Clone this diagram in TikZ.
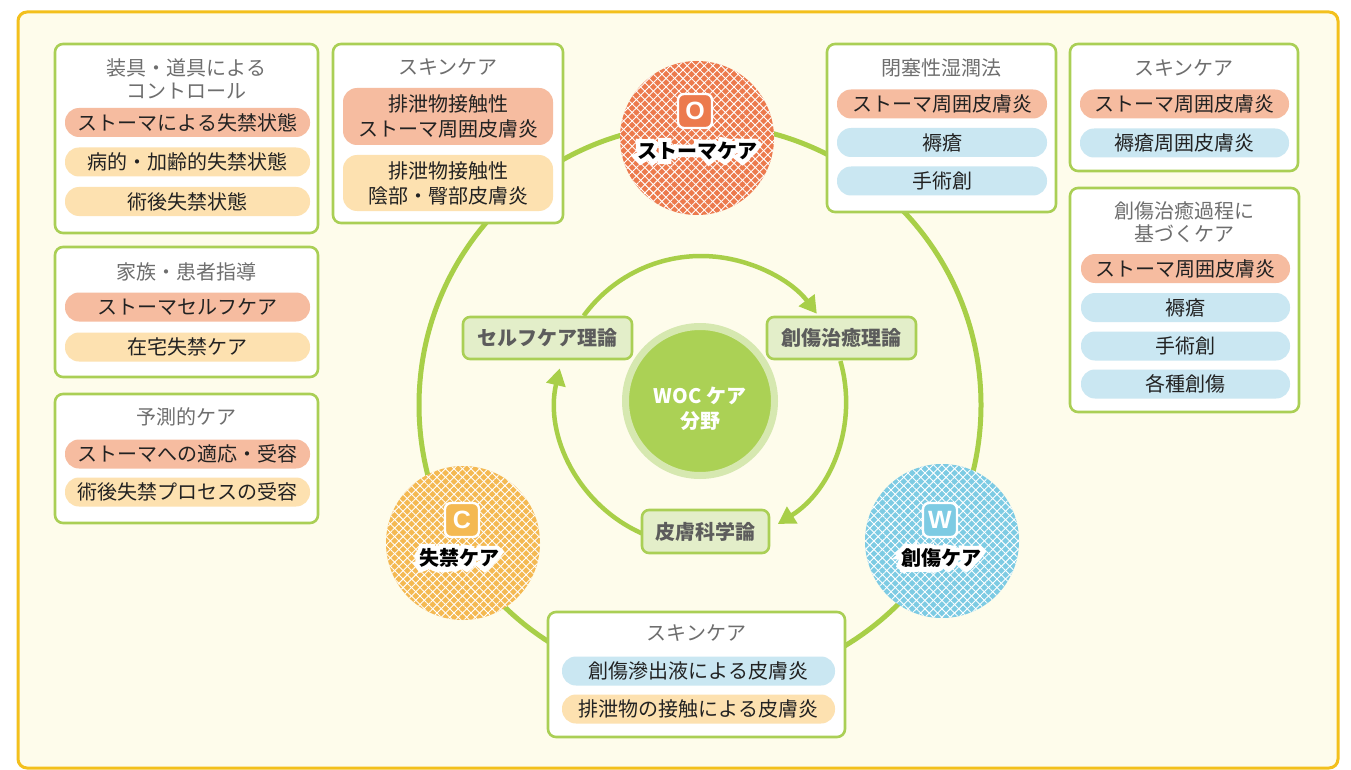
\documentclass[tikz,border=0pt]{standalone}
\usepackage{fontspec}
\setmainfont{Noto Sans CJK JP}
\newfontfamily\latf{Liberation Sans}
\newfontfamily\halofont{Noto Sans CJK JP}[BoldFeatures={FakeBold=45}]
\usetikzlibrary{calc,arrows.meta,patterns.meta}
\definecolor{framey}{HTML}{F3C01C}
\definecolor{cream}{HTML}{FEFCEB}
\definecolor{cardg}{HTML}{AACF55}
\definecolor{ringg}{HTML}{A8CF48}
\definecolor{thfill}{HTML}{E3EEC9}
\definecolor{headgray}{HTML}{6E6E6E}
\definecolor{thtext}{HTML}{5C5C5C}
\definecolor{textdark}{HTML}{222222}
\definecolor{salmon}{HTML}{F6BCA0}
\definecolor{peach}{HTML}{FDE1B0}
\definecolor{lblue}{HTML}{CAE7F2}
\definecolor{ocol}{HTML}{EC7A4D}
\definecolor{ccol}{HTML}{F4B952}
\definecolor{wcol}{HTML}{7DCBE3}
\definecolor{woclight}{HTML}{D6E8B0}
\definecolor{wocin}{HTML}{ABD155}
\newcommand\halolabel[3]{%
  \node[circlabel,text=white,font=\halofont\bfseries\fontsize{20}{20}\selectfont] (#1h) at (#2) {#3};
  \node[circlabel,text=black] (#1) at (#2) {#3};}
\newcommand\texturecirc[1]{%
  \fill[pattern={Lines[angle=45,distance=6pt,line width=0.9pt]}, pattern color=white, fill opacity=0.22] (#1.center) circle[radius=77pt];
  \fill[pattern={Lines[angle=-45,distance=6pt,line width=0.9pt]}, pattern color=white, fill opacity=0.22] (#1.center) circle[radius=77pt];}
\begin{document}
\begin{tikzpicture}[x=1pt,y=-1pt,
  card/.style={draw=cardg, line width=2.6pt, fill=white, rounded corners=8pt, inner sep=0pt},
  head/.style={text=headgray, font=\fontsize{20}{23}\selectfont, align=center, inner sep=0pt},
  pill/.style={rounded corners=14pt, minimum height=29pt, inner sep=0pt, text=textdark, font=\fontsize{20}{24}\selectfont},
  pilltwo/.style={rounded corners=14pt, inner sep=0pt, text=textdark, font=\fontsize{20}{25}\selectfont, align=center},
  theory/.style={draw=cardg, fill=thfill, line width=2.6pt, rounded corners=7pt, minimum height=42pt, inner sep=0pt, text=thtext, font=\bfseries\fontsize{20}{20}\selectfont},
  cycarrow/.style={draw=ringg, line width=4.5pt, -{Triangle[length=17pt,width=19pt]}},
  circlabel/.style={font=\bfseries\fontsize{20}{20}\selectfont, inner sep=0pt},
  badge/.style={draw=white, line width=2.4pt, rounded corners=6pt, minimum size=34pt, inner sep=0pt, text=white, font=\latf\bfseries\fontsize{25}{25}\selectfont},
  bigcirc/.style={circle, minimum size=154pt, inner sep=0pt}
]
\useasboundingbox (0,0) rectangle (1351,770);
\fill[white] (0,0) rectangle (1351,770);
\draw[draw=framey, fill=cream, line width=3pt, rounded corners=9pt] (18,12) rectangle (1338,768);

% big ring
\node[circle, draw=ringg, line width=5pt, minimum size=562pt, inner sep=0pt] (ring) at (700,405) {};

% ---- left column cards
\node[card, minimum width=263pt, minimum height=189pt] (cardA) at (186.5,138.5) {};
\node[head] (headA) at (186.5,78.5) {装具・道具による\\コントロール};
\node[pill, fill=salmon, minimum width=245pt] (a1) at (187.5,122.5) {ストーマによる失禁状態};
\node[pill, fill=peach, minimum width=245pt] (a2) at (187.5,162) {病的・加齢的失禁状態};
\node[pill, fill=peach, minimum width=245pt] (a3) at (187.5,201.5) {術後失禁状態};

\node[card, minimum width=263pt, minimum height=130pt] (cardB) at (186.5,312) {};
\node[head] (headB) at (186.5,272) {家族・患者指導};
\node[pill, fill=salmon, minimum width=245pt] (b1) at (187.5,307) {ストーマセルフケア};
\node[pill, fill=peach, minimum width=245pt] (b2) at (187.5,347) {在宅失禁ケア};

\node[card, minimum width=263pt, minimum height=129pt] (cardC) at (186.5,458.5) {};
\node[head] (headC) at (186.5,417) {予測的ケア};
\node[pill, fill=salmon, minimum width=245pt] (c1) at (187.5,454) {ストーマへの適応・受容};
\node[pill, fill=peach, minimum width=245pt] (c2) at (187.5,492) {術後失禁プロセスの受容};

% ---- top middle card
\node[card, minimum width=230pt, minimum height=179pt] (cardD) at (448,133.5) {};
\node[head] (headD) at (448,67) {スキンケア};
\node[pilltwo, fill=salmon, minimum width=210pt, minimum height=57pt] (d1) at (448,116.5) {排泄物接触性\\ストーマ周囲皮膚炎};
\node[pilltwo, fill=peach, minimum width=210pt, minimum height=56pt] (d2) at (448,183) {排泄物接触性\\陰部・臀部皮膚炎};

% ---- top right cards
\node[card, minimum width=229pt, minimum height=168pt] (cardE) at (941.5,128) {};
\node[head] (headE) at (941.5,68) {閉塞性湿潤法};
\node[pill, fill=salmon, minimum width=210pt] (e1) at (942,104) {ストーマ周囲皮膚炎};
\node[pill, fill=lblue, minimum width=210pt] (e2) at (942,142.5) {褥瘡};
\node[pill, fill=lblue, minimum width=210pt] (e3) at (942,181) {手術創};

\node[card, minimum width=228pt, minimum height=127pt] (cardF) at (1184,107.5) {};
\node[head] (headF) at (1184,68) {スキンケア};
\node[pill, fill=salmon, minimum width=209pt] (f1) at (1184.5,104) {ストーマ周囲皮膚炎};
\node[pill, fill=lblue, minimum width=209pt] (f2) at (1184.5,143) {褥瘡周囲皮膚炎};

\node[card, minimum width=229pt, minimum height=224pt] (cardG) at (1184.5,300) {};
\node[head] (headG) at (1184.5,222.5) {創傷治癒過程に\\基づくケア};
\node[pill, fill=salmon, minimum width=209pt] (g1) at (1185.5,268.5) {ストーマ周囲皮膚炎};
\node[pill, fill=lblue, minimum width=209pt] (g2) at (1185.5,307.5) {褥瘡};
\node[pill, fill=lblue, minimum width=209pt] (g3) at (1185.5,346) {手術創};
\node[pill, fill=lblue, minimum width=209pt] (g4) at (1185.5,384) {各種創傷};

% ---- bottom card
\node[card, minimum width=297pt, minimum height=125pt] (cardH) at (696.5,674.5) {};
\node[head] (headH) at (696.5,633) {スキンケア};
\node[pill, fill=lblue, minimum width=273pt] (h1) at (698.5,671) {創傷滲出液による皮膚炎};
\node[pill, fill=peach, minimum width=273pt] (h2) at (698.5,709) {排泄物の接触による皮膚炎};

% ---- three care circles
\node[bigcirc, fill=ocol] (Oc) at (697,138) {};
\texturecirc{Oc}
\node[badge, fill=ocol] (Ob) at (695,111) {O};
\halolabel{Ot}{697,151}{ストーマケア}

\node[bigcirc, fill=ccol] (Cc) at (463,543) {};
\texturecirc{Cc}
\node[badge, fill=ccol] (Cb) at (462,520) {C};
\halolabel{Ct}{459,558}{失禁ケア}

\node[bigcirc, fill=wcol] (Wc) at (942,541) {};
\texturecirc{Wc}
\node[badge, fill=wcol] (Wb) at (940,520) {W};
\halolabel{Wt}{941,558}{創傷ケア}

% ---- inner cycle
\coordinate (ctr) at (701,401);
\coordinate (s1) at ($(ctr)+(144:145pt)$);
\coordinate (s2) at ($(ctr)+(16:145pt)$);
\coordinate (s3) at ($(ctr)+(-114:145pt)$);
\draw[cycarrow] (s1) arc[start angle=144, end angle=37, radius=145pt];
\draw[cycarrow] (s2) arc[start angle=16, end angle=-58, radius=145pt];
\draw[cycarrow] (s3) arc[start angle=-114, end angle=-193, radius=145pt];

\node[theory, minimum width=169pt] (t1) at (547.5,338) {セルフケア理論};
\node[theory, minimum width=149pt] (t2) at (841.5,338) {創傷治癒理論};
\node[theory, minimum width=127pt, minimum height=43pt] (t3) at (705.5,531.5) {皮膚科学論};

\node[circle, fill=wocin, draw=woclight, line width=7pt, minimum size=149pt, inner sep=0pt] (woc) at (700,401) {};
\node[text=white, font=\bfseries\fontsize{20}{25}\selectfont, align=center, inner sep=0pt] (woct) at (700,409) {WOC ケア\\分野};
\end{tikzpicture}
\end{document}
